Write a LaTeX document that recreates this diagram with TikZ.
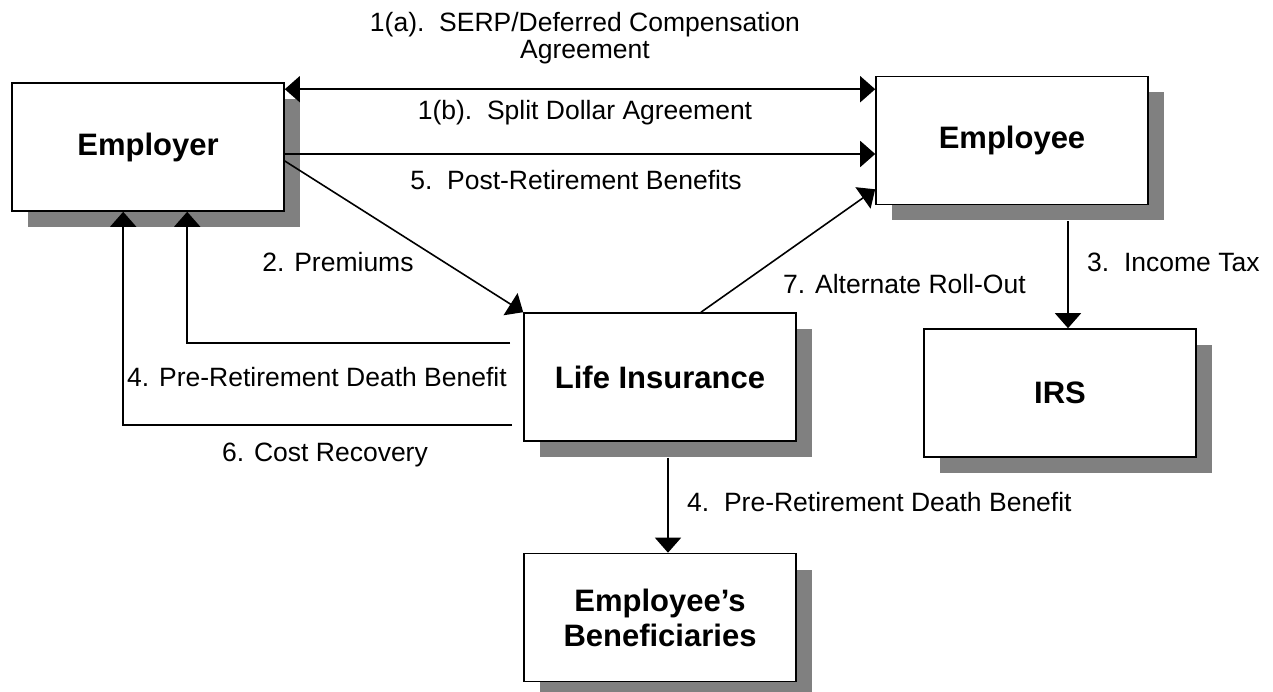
\documentclass[tikz,border=0pt]{standalone}
\usepackage{fontspec}
\setmainfont{Liberation Sans}
\usetikzlibrary{arrows.meta,shadows,calc}
\definecolor{shadowgray}{RGB}{128,128,128}
\begin{document}
\begin{tikzpicture}[x=1pt,y=-1pt,
  box/.style={draw=black, line width=1.6pt, fill=white, minimum width=272pt,
    minimum height=128pt, inner sep=0pt, align=center,
    font=\fontsize{31}{35}\selectfont\bfseries,
    drop shadow={shadow xshift=16pt, shadow yshift=-16pt, fill=shadowgray, opacity=1}},
  tip/.tip={Triangle[length=15pt,width=26pt]},
  conn/.style={line width=1.6pt, -tip},
  dconn/.style={line width=1.6pt, tip-tip},
  lab/.style={font=\fontsize{26.5}{27}\selectfont, inner sep=0pt}]
\useasboundingbox[fill=white] (0,0) rectangle (1273,692);

\node[box] (employer) at (148,147) {Employer};
\node[box] (employee) at (1012,140.5) {Employee};
\node[box] (life) at (660,377) {Life Insurance};
\node[box] (irs) at (1060,393) {IRS};
\node[box] (benef) at (660,617.5) {Employee’s\\Beneficiaries};

\coordinate (a1) at ($(employer.north east)+(0,7)$);
\coordinate (a5) at ($(employer.east)+(0,7)$);
\coordinate (a2) at ($(employer.east)+(0,14)$);
\coordinate (a7) at ($(life.north)+(41,0)$);
\coordinate (e7) at ($(employee.south west)+(0,-16)$);
\coordinate (a3) at ($(employee.south)+(56,16)$);
\coordinate (a4) at ($(life.south)+(8,16)$);
\coordinate (b4) at ($(life.north west)+(-13,31)$);
\coordinate (e4) at ($(employer.south west)+(176,0)$);
\coordinate (c6) at ($(life.south west)+(-11,-17)$);
\coordinate (e6) at ($(employer.south west)+(112,0)$);

\draw[dconn] (a1) -- (a1 -| employee.west);
\draw[conn] (a5) -- (a5 -| employee.west);
\draw[conn] (a2) -- (life.north west);
\draw[conn] (a7) -- (e7);
\draw[conn] (a3) -- (a3 |- irs.north);
\draw[conn] (a4) -- (a4 |- benef.north);
\draw[conn] (b4) -| (e4);
\draw[conn] (c6) -| (e6);

\node[lab, align=center] (l1a) at (585,38.5) {1(a).\ \ SERP/Deferred Compensation\\Agreement};
\node[lab] (l1b) at (585,113) {1(b).\ \ Split Dollar Agreement};
\node[lab] (l5) at (576,180) {5.\ \ Post-Retirement Benefits};
\node[lab] (l2) at (338,262) {2. Premiums};
\node[lab] (l4a) at (317,377) {4. Pre-Retirement Death Benefit};
\node[lab] (l6) at (325,455) {6. Cost Recovery};
\node[lab, anchor=west] (l7) at (783,284) {7. Alternate Roll-Out};
\node[lab, anchor=west] (l3) at (1087,262) {3.\ \ Income Tax};
\node[lab, anchor=west] (l4b) at (687,502) {4.\ \ Pre-Retirement Death Benefit};
\end{tikzpicture}
\end{document}
